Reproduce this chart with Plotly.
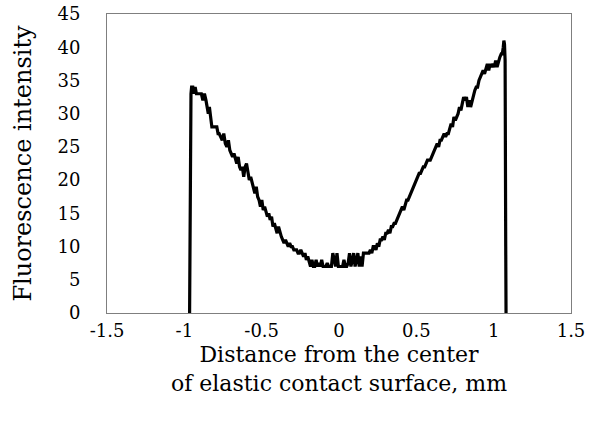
import plotly.graph_objects as go

distance_mm = [
    -0.966, -0.963, -0.960, -0.957, -0.953, -0.945, -0.938, -0.930, -0.922, -0.912,
    -0.900, -0.890, -0.880, -0.870, -0.860, -0.852, -0.845, -0.838, -0.830, -0.822,
    -0.812, -0.800, -0.790, -0.782, -0.775, -0.765, -0.755, -0.745, -0.735, -0.725,
    -0.715, -0.706, -0.697, -0.688, -0.679, -0.670, -0.661, -0.652, -0.643, -0.634,
    -0.625, -0.616, -0.607, -0.598, -0.589, -0.580, -0.571, -0.562, -0.553, -0.544,
    -0.535, -0.526, -0.517, -0.508, -0.499, -0.490, -0.481, -0.472, -0.463, -0.454,
    -0.445, -0.436, -0.427, -0.418, -0.409, -0.400, -0.391, -0.382, -0.373, -0.364,
    -0.355, -0.346, -0.337, -0.328, -0.319, -0.310, -0.301, -0.292, -0.283, -0.274,
    -0.265, -0.256, -0.247, -0.238, -0.229, -0.220, -0.211, -0.202, -0.193, -0.184,
    -0.175, -0.166, -0.157, -0.148, -0.139, -0.130, -0.121, -0.112, -0.103, -0.094,
    -0.085, -0.076, -0.067, -0.058, -0.049, -0.040, -0.031, -0.022, -0.013, -0.004,
    0.005, 0.014, 0.023, 0.032, 0.041, 0.050, 0.059, 0.068, 0.077, 0.086,
    0.095, 0.104, 0.113, 0.122, 0.131, 0.140, 0.149, 0.158, 0.167, 0.176,
    0.185, 0.194, 0.203, 0.212, 0.221, 0.230, 0.239, 0.248, 0.257, 0.266,
    0.275, 0.284, 0.293, 0.302, 0.311, 0.320, 0.329, 0.338, 0.347, 0.356,
    0.365, 0.374, 0.383, 0.392, 0.401, 0.410, 0.419, 0.428, 0.437, 0.446,
    0.455, 0.464, 0.473, 0.482, 0.491, 0.500, 0.509, 0.518, 0.527, 0.536,
    0.545, 0.554, 0.563, 0.572, 0.581, 0.590, 0.599, 0.608, 0.617, 0.626,
    0.635, 0.644, 0.653, 0.662, 0.671, 0.680, 0.689, 0.698, 0.707, 0.716,
    0.725, 0.734, 0.743, 0.752, 0.761, 0.770, 0.779, 0.788, 0.797, 0.806,
    0.815, 0.824, 0.833, 0.842, 0.851, 0.860, 0.869, 0.878, 0.887, 0.896,
    0.905, 0.914, 0.923, 0.932, 0.941, 0.950, 0.959, 0.968, 0.977, 0.986,
    0.995, 1.004, 1.013, 1.022, 1.031, 1.040, 1.049, 1.056, 1.062, 1.066,
    1.070, 1.074, 1.078, 1.080,
]

fluorescence = [
    0, 20, 31, 33, 34, 34, 33, 34, 33, 33,
    33, 33, 32, 33, 32, 31, 30, 31, 29, 28,
    28, 28, 28, 27, 27, 26.5, 26, 27, 25.5, 25,
    26, 24.5, 24, 23.5, 24, 23, 22.5, 23.5, 22, 21.5,
    22, 20.5, 22, 22.5, 21, 20, 20.5, 19.5, 18.5, 18,
    19, 17.5, 17, 16, 17, 15.5, 16, 15, 14.5, 15,
    14, 14.5, 13, 13.5, 12.5, 12, 13, 12, 11.5, 11,
    10.5, 11, 10.5, 10, 10.5, 10, 10, 9.5, 9.5, 9.5,
    9, 9, 9.5, 9, 8.5, 9, 8, 8.5, 7.5, 7,
    8, 7, 7, 8, 7, 7.5, 7, 8, 7, 7,
    7, 7.5, 7, 7, 7, 9, 8, 7, 9, 7,
    7, 7, 7, 8, 7, 7, 7.5, 9, 7, 8,
    9, 7, 8, 9, 7, 8.5, 7, 9, 9, 9,
    9, 9, 9.5, 9, 10, 10, 9.5, 10.5, 10, 11,
    11, 11.5, 11, 12, 12, 12.5, 12, 13, 13, 13.5,
    13.5, 14, 14.5, 15, 15.5, 16, 15.5, 16.5, 17, 17,
    17.5, 18, 18.5, 19, 19.5, 20, 20.5, 21, 21, 21.5,
    22, 22, 22.5, 23, 23, 23, 23.5, 24, 24.5, 25,
    25.5, 25, 26, 26, 26.5, 27, 26.5, 27, 27, 28,
    28.5, 28, 29.5, 29, 29.5, 30, 31, 30.5, 31.5, 32.5,
    32, 32.5, 31, 32, 31, 32, 33, 33.5, 34, 34,
    35, 35.5, 36, 36.5, 36, 37, 37.5, 36.5, 37.5, 37,
    37.5, 37, 38, 37, 38, 38.5, 39, 39, 40, 41,
    40.5, 38, 10, 0,
]

x_ticks = [-1.5, -1, -0.5, 0, 0.5, 1, 1.5]
x_tick_labels = ["-1.5", "-1", "-0.5", "0", "0.5", "1", "1.5"]
y_ticks = [0, 5, 10, 15, 20, 25, 30, 35, 40, 45]

FONT = "DejaVu Serif"

fig = go.Figure()
fig.add_trace(go.Scatter(
    x=distance_mm, y=fluorescence, mode="lines",
    line=dict(color="black", width=3.2),
    showlegend=False,
))

fig.update_layout(
    width=597, height=430,
    margin=dict(l=107, r=26, t=14, b=117, autoexpand=False),
    paper_bgcolor="white", plot_bgcolor="white",
    font=dict(family=FONT, color="black", size=18),
    xaxis=dict(
        range=[-1.5, 1.5], tickvals=x_ticks, ticktext=x_tick_labels,
        showgrid=False, zeroline=False, showline=True, mirror=True,
        linecolor="#7f7f7f", linewidth=1, ticks="", ticklabelstandoff=1,
        tickfont=dict(family=FONT, size=18), automargin=False,
        title=dict(text="Distance from the center<br>of elastic contact surface, mm",
                   font=dict(family=FONT, size=22), standoff=7),
    ),
    yaxis=dict(
        range=[0, 45], tickvals=y_ticks,
        showgrid=False, zeroline=False, showline=True, mirror=True,
        linecolor="#7f7f7f", linewidth=1, ticks="", ticklabelstandoff=22,
        tickfont=dict(family=FONT, size=18), automargin=False,
        title=dict(text="Fluorescence intensity",
                   font=dict(family=FONT, size=24), standoff=19),
    ),
)

fig.write_html("out.html", config={"displayModeBar": False},
               post_script="document.body.style.margin='0';")
